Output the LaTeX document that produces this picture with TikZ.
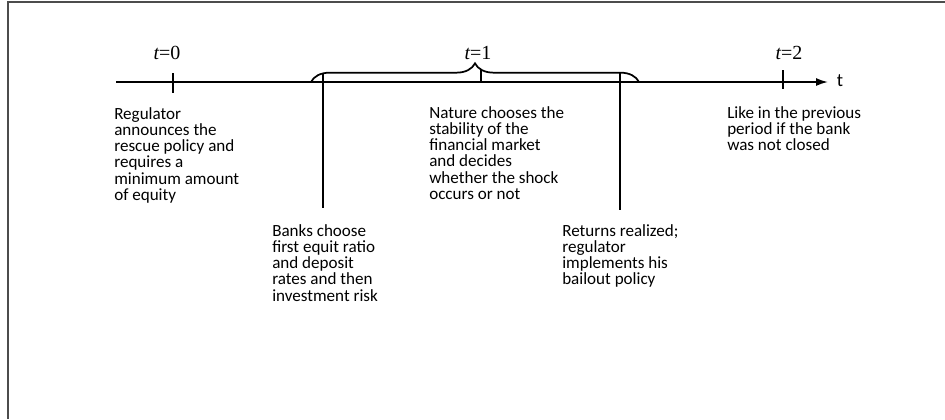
\documentclass[tikz,border=0pt]{standalone}
\usepackage{fontspec}
\setmainfont{Carlito}
\newfontfamily\timefont{Liberation Serif}
\usetikzlibrary{arrows.meta,decorations.pathreplacing}

\begin{document}
\begin{tikzpicture}[x=0.75pt,y=-0.75pt,
  event/.style={anchor=north west, align=left, inner sep=0pt, font=\fontsize{12.8}{12.2}\selectfont},
  period/.style={anchor=base, inner sep=0pt, font=\fontsize{15}{15}\timefont},
  tick/.style={line width=1.3pt},
  bar/.style={line width=1.6pt}]
\useasboundingbox (0,0) rectangle (945,419);
\draw[line width=1.5pt,black!70] (8,419)--(8,1.5)--(945,1.5);

% time axis
\coordinate (start) at (116,82);
\coordinate (stop) at (828,82);
\draw[tick,-{Latex[length=9pt,width=6pt]}] (start)--(stop) node[anchor=west,font=\fontsize{14}{14}\selectfont,inner sep=0pt,xshift=6pt,yshift=1pt] (tlab) {t};

% periods
\coordinate (p0) at (173,82);
\coordinate (p1) at (481,82);
\coordinate (p2) at (783,82);
\draw[tick] ([yshift=-8pt]p0)--([yshift=7pt]p0);
\draw[tick] (p1)--([yshift=10pt]p1);
\draw[tick] ([yshift=-5pt]p2)--([yshift=9pt]p2);
\node[period] (t0) at (167,59) {{\itshape t}=0};
\node[period] (t2) at (789,59) {{\itshape t}=2};

% brace over period 1
\coordinate (bl) at (311,82);
\coordinate (br) at (639,82);
\draw[tick,decorate,decoration={brace,amplitude=14pt}] (bl)--(br);
\node[period] (t1) at (478,59) {{\itshape t}=1};

% long marks inside period 1
\coordinate (m1) at (323,73);
\coordinate (m2) at (620,73);
\draw[bar] (m1)--++(0,135);
\draw[bar] (m2)--++(0,137);

% what happens
\node[event] (reg) at (114,107) {Regulator\\announces the\\rescue policy and\\requires a\\minimum amount\\of equity};
\node[event] (banks) at (272,224) {Banks choose\\first equit ratio\\and deposit\\rates and then\\investment risk};
\node[event] (nat) at (429,106) {Nature chooses the\\stability of the\\financial market\\and decides\\whether the shock\\occurs or not};
\node[event] (ret) at (562,224) {Returns realized;\\regulator\\implements his\\bailout policy};
\node[event] (like) at (727,106) {Like in the previous\\period if the bank\\was not closed};
\end{tikzpicture}
\end{document}
